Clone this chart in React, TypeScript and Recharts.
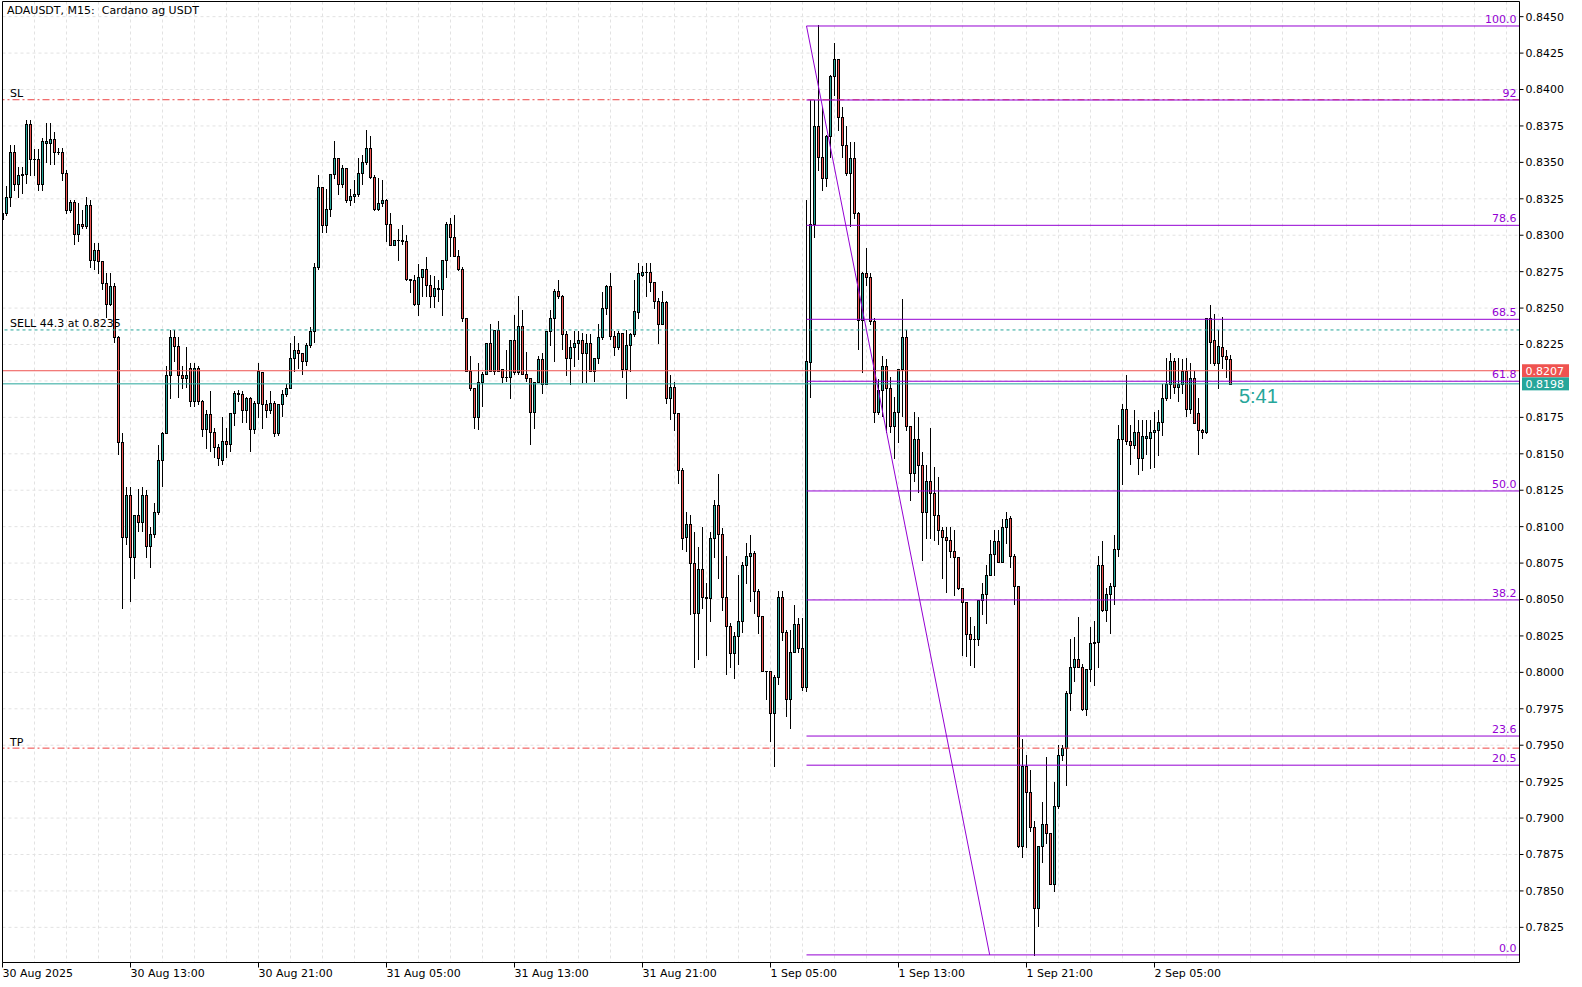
import React from 'react';
import { Bar, CartesianGrid, ComposedChart, ReferenceDot, ReferenceLine, XAxis, YAxis } from 'recharts';

// ADAUSDT M15 candles, 30 Aug 05:00 -> 2 Sep 09:45 (one value per candle)
const opens = [
  0.8311, 0.8315, 0.8326, 0.8357, 0.8335, 0.8341, 0.8342, 0.8376, 0.8352, 0.8352,
  0.8335, 0.8363, 0.8363, 0.8366, 0.8357, 0.8357, 0.8343, 0.8317, 0.8323, 0.8301,
  0.8308, 0.8306, 0.8321, 0.8283, 0.8290, 0.8282, 0.8267, 0.8253, 0.8265, 0.8230,
  0.8158, 0.8093, 0.8122, 0.8079, 0.8108, 0.8103, 0.8122, 0.8087, 0.8095, 0.8110,
  0.8146, 0.8164, 0.8204, 0.8230, 0.8224, 0.8204, 0.8202, 0.8209, 0.8186, 0.8209,
  0.8186, 0.8167, 0.8177, 0.8165, 0.8155, 0.8146, 0.8159, 0.8157, 0.8178, 0.8192,
  0.8191, 0.8180, 0.8188, 0.8167, 0.8185, 0.8206, 0.8184, 0.8180, 0.8185, 0.8164,
  0.8184, 0.8191, 0.8195, 0.8216, 0.8221, 0.8219, 0.8214, 0.8225, 0.8234, 0.8278,
  0.8333, 0.8307, 0.8318, 0.8342, 0.8353, 0.8335, 0.8346, 0.8324, 0.8327, 0.8328,
  0.8343, 0.8350, 0.8360, 0.8340, 0.8318, 0.8322, 0.8324, 0.8308, 0.8293, 0.8297,
  0.8297, 0.8296, 0.8270, 0.8269, 0.8253, 0.8271, 0.8277, 0.8266, 0.8258, 0.8264,
  0.8263, 0.8283, 0.8308, 0.8299, 0.8286, 0.8277, 0.8243, 0.8207, 0.8195, 0.8175,
  0.8199, 0.8205, 0.8226, 0.8207, 0.8235, 0.8208, 0.8203, 0.8203, 0.8228, 0.8206,
  0.8238, 0.8205, 0.8202, 0.8179, 0.8199, 0.8215, 0.8198, 0.8234, 0.8243, 0.8262,
  0.8258, 0.8232, 0.8216, 0.8223, 0.8226, 0.8228, 0.8219, 0.8226, 0.8207, 0.8216,
  0.8230, 0.8250, 0.8265, 0.8231, 0.8223, 0.8233, 0.8208, 0.8225, 0.8232, 0.8247,
  0.8273, 0.8275, 0.8275, 0.8268, 0.8255, 0.8239, 0.8254, 0.8188, 0.8196, 0.8178,
  0.8139, 0.8093, 0.8102, 0.8075, 0.8041, 0.8071, 0.8052, 0.8051, 0.8092, 0.8115,
  0.8095, 0.8052, 0.8032, 0.8013, 0.8025, 0.8035, 0.8074, 0.8080, 0.8082, 0.8056,
  0.8039, 0.8001, 0.8001, 0.7972, 0.7997, 0.8052, 0.8028, 0.7982, 0.8014, 0.8033,
  0.8017, 0.7990, 0.8213, 0.8308, 0.8375, 0.8354, 0.8339, 0.8368, 0.8409, 0.8421,
  0.8381, 0.8362, 0.8343, 0.8353, 0.8315, 0.8242, 0.8274, 0.8271, 0.8241, 0.8179,
  0.8194, 0.8210, 0.8195, 0.8169, 0.8179, 0.8208, 0.8230, 0.8169, 0.8137, 0.8160,
  0.8142, 0.8110, 0.8131, 0.8123, 0.8108, 0.8098, 0.8093, 0.8091, 0.8083, 0.8079,
  0.8058, 0.8048, 0.8026, 0.8023, 0.8023, 0.8050, 0.8054, 0.8067, 0.8081, 0.8090,
  0.8076, 0.8100, 0.8106, 0.8080, 0.8059, 0.7881, 0.7936, 0.7918, 0.7894, 0.7838,
  0.7881, 0.7896, 0.7890, 0.7855, 0.7908, 0.7943, 0.7948, 0.7986, 0.8004, 0.8009,
  0.8004, 0.7975, 0.8002, 0.8020, 0.8021, 0.8074, 0.8043, 0.8054, 0.8059, 0.8085,
  0.8160, 0.8181, 0.8159, 0.8156, 0.8165, 0.8147, 0.8161, 0.8161, 0.8165, 0.8166,
  0.8172, 0.8188, 0.8198, 0.8214, 0.8196, 0.8198, 0.8207, 0.8181, 0.8202, 0.8178,
  0.8166, 0.8165, 0.8243, 0.8228, 0.8212, 0.8223, 0.8217, 0.8215,
];

const highs = [
  0.8316, 0.8334, 0.8362, 0.8362, 0.8347, 0.8347, 0.8379, 0.8379, 0.8359, 0.8359,
  0.8367, 0.8377, 0.8377, 0.8371, 0.8360, 0.8360, 0.8345, 0.8324, 0.8324, 0.8322,
  0.8317, 0.8326, 0.8324, 0.8295, 0.8295, 0.8282, 0.8274, 0.8274, 0.8267, 0.8231,
  0.8164, 0.8127, 0.8127, 0.8108, 0.8126, 0.8127, 0.8125, 0.8100, 0.8116, 0.8156,
  0.8165, 0.8210, 0.8235, 0.8235, 0.8230, 0.8210, 0.8223, 0.8212, 0.8212, 0.8210,
  0.8187, 0.8180, 0.8193, 0.8168, 0.8157, 0.8175, 0.8168, 0.8178, 0.8193, 0.8194,
  0.8193, 0.8189, 0.8189, 0.8186, 0.8212, 0.8206, 0.8187, 0.8193, 0.8186, 0.8184,
  0.8194, 0.8198, 0.8226, 0.8231, 0.8226, 0.8219, 0.8226, 0.8237, 0.8281, 0.8341,
  0.8333, 0.8332, 0.8342, 0.8365, 0.8353, 0.8348, 0.8346, 0.8332, 0.8338, 0.8353,
  0.8355, 0.8372, 0.8368, 0.8341, 0.8339, 0.8338, 0.8325, 0.8315, 0.8297, 0.8304,
  0.8307, 0.8300, 0.8270, 0.8273, 0.8280, 0.8277, 0.8285, 0.8273, 0.8272, 0.8269,
  0.8283, 0.8309, 0.8312, 0.8314, 0.8290, 0.8278, 0.8243, 0.8217, 0.8195, 0.8212,
  0.8206, 0.8226, 0.8239, 0.8235, 0.8241, 0.8208, 0.8221, 0.8228, 0.8245, 0.8258,
  0.8249, 0.8220, 0.8202, 0.8199, 0.8217, 0.8219, 0.8234, 0.8249, 0.8263, 0.8269,
  0.8259, 0.8234, 0.8228, 0.8234, 0.8234, 0.8233, 0.8232, 0.8232, 0.8216, 0.8239,
  0.8261, 0.8266, 0.8274, 0.8234, 0.8234, 0.8233, 0.8235, 0.8233, 0.8269, 0.8281,
  0.8279, 0.8281, 0.8281, 0.8268, 0.8257, 0.8262, 0.8255, 0.8204, 0.8199, 0.8178,
  0.8140, 0.8110, 0.8108, 0.8096, 0.8086, 0.8100, 0.8061, 0.8096, 0.8118, 0.8136,
  0.8099, 0.8080, 0.8034, 0.8028, 0.8067, 0.8076, 0.8089, 0.8094, 0.8083, 0.8057,
  0.8039, 0.8001, 0.8001, 0.7998, 0.8056, 0.8056, 0.8029, 0.8029, 0.8046, 0.8037,
  0.8037, 0.8324, 0.8393, 0.8393, 0.8444, 0.8388, 0.8369, 0.8410, 0.8432, 0.8421,
  0.8388, 0.8375, 0.8364, 0.8364, 0.8316, 0.8275, 0.8291, 0.8274, 0.8243, 0.8201,
  0.8217, 0.8215, 0.8203, 0.8189, 0.8208, 0.8256, 0.8235, 0.8169, 0.8179, 0.8175,
  0.8151, 0.8142, 0.8168, 0.8141, 0.8134, 0.8100, 0.8100, 0.8100, 0.8098, 0.8079,
  0.8058, 0.8048, 0.8038, 0.8032, 0.8050, 0.8061, 0.8074, 0.8091, 0.8098, 0.8098,
  0.8105, 0.8110, 0.8107, 0.8081, 0.8059, 0.7954, 0.7943, 0.7933, 0.7898, 0.7881,
  0.7911, 0.7942, 0.7890, 0.7925, 0.7950, 0.7950, 0.7987, 0.8023, 0.8024, 0.8038,
  0.8006, 0.8002, 0.8031, 0.8035, 0.8080, 0.8090, 0.8058, 0.8061, 0.8094, 0.8170,
  0.8184, 0.8204, 0.8170, 0.8180, 0.8173, 0.8173, 0.8173, 0.8173, 0.8179, 0.8180,
  0.8198, 0.8216, 0.8219, 0.8216, 0.8216, 0.8215, 0.8216, 0.8212, 0.8207, 0.8188,
  0.8167, 0.8243, 0.8252, 0.8246, 0.8235, 0.8244, 0.8221, 0.8218,
];

const lows = [
  0.8310, 0.8314, 0.8320, 0.8331, 0.8326, 0.8329, 0.8336, 0.8341, 0.8341, 0.8331,
  0.8331, 0.8350, 0.8349, 0.8349, 0.8356, 0.8338, 0.8315, 0.8316, 0.8294, 0.8296,
  0.8305, 0.8305, 0.8278, 0.8277, 0.8274, 0.8263, 0.8244, 0.8252, 0.8227, 0.8150,
  0.8044, 0.8088, 0.8049, 0.8065, 0.8097, 0.8097, 0.8079, 0.8072, 0.8093, 0.8109,
  0.8128, 0.8164, 0.8188, 0.8214, 0.8189, 0.8195, 0.8196, 0.8183, 0.8183, 0.8184,
  0.8162, 0.8154, 0.8152, 0.8148, 0.8142, 0.8143, 0.8148, 0.8152, 0.8170, 0.8186,
  0.8172, 0.8172, 0.8152, 0.8164, 0.8175, 0.8168, 0.8175, 0.8178, 0.8162, 0.8163,
  0.8176, 0.8190, 0.8195, 0.8207, 0.8209, 0.8205, 0.8211, 0.8223, 0.8227, 0.8277,
  0.8302, 0.8302, 0.8313, 0.8339, 0.8328, 0.8333, 0.8323, 0.8321, 0.8323, 0.8327,
  0.8335, 0.8349, 0.8339, 0.8317, 0.8317, 0.8320, 0.8296, 0.8293, 0.8293, 0.8283,
  0.8294, 0.8269, 0.8261, 0.8252, 0.8245, 0.8258, 0.8258, 0.8251, 0.8251, 0.8255,
  0.8245, 0.8271, 0.8286, 0.8286, 0.8276, 0.8241, 0.8207, 0.8194, 0.8168, 0.8167,
  0.8183, 0.8205, 0.8207, 0.8205, 0.8207, 0.8199, 0.8200, 0.8188, 0.8205, 0.8205,
  0.8205, 0.8200, 0.8157, 0.8168, 0.8199, 0.8192, 0.8198, 0.8225, 0.8214, 0.8257,
  0.8222, 0.8204, 0.8198, 0.8210, 0.8215, 0.8199, 0.8199, 0.8207, 0.8200, 0.8212,
  0.8229, 0.8246, 0.8229, 0.8218, 0.8222, 0.8203, 0.8188, 0.8207, 0.8231, 0.8243,
  0.8272, 0.8258, 0.8262, 0.8250, 0.8226, 0.8239, 0.8185, 0.8174, 0.8166, 0.8130,
  0.8085, 0.8083, 0.8040, 0.8004, 0.8009, 0.8044, 0.8012, 0.8035, 0.8079, 0.8065,
  0.8043, 0.7999, 0.8004, 0.7996, 0.8006, 0.8028, 0.8061, 0.8049, 0.8041, 0.8027,
  0.8001, 0.7982, 0.7953, 0.7936, 0.7992, 0.8022, 0.7970, 0.7962, 0.8014, 0.8014,
  0.7988, 0.7987, 0.8189, 0.8299, 0.8345, 0.8331, 0.8334, 0.8354, 0.8396, 0.8372,
  0.8354, 0.8341, 0.8306, 0.8312, 0.8222, 0.8206, 0.8266, 0.8239, 0.8172, 0.8177,
  0.8176, 0.8165, 0.8165, 0.8147, 0.8158, 0.8176, 0.8166, 0.8118, 0.8131, 0.8124,
  0.8077, 0.8092, 0.8092, 0.8091, 0.8088, 0.8065, 0.8055, 0.8079, 0.8053, 0.8057,
  0.8012, 0.8011, 0.8005, 0.8004, 0.8019, 0.8040, 0.8034, 0.8067, 0.8067, 0.8076,
  0.8076, 0.8089, 0.8072, 0.8047, 0.7880, 0.7873, 0.7880, 0.7891, 0.7806, 0.7826,
  0.7870, 0.7883, 0.7855, 0.7850, 0.7907, 0.7940, 0.7923, 0.7974, 0.7994, 0.8004,
  0.7974, 0.7971, 0.7994, 0.7991, 0.8004, 0.8042, 0.8035, 0.8027, 0.8047, 0.8080,
  0.8129, 0.8157, 0.8143, 0.8154, 0.8136, 0.8139, 0.8150, 0.8140, 0.8141, 0.8149,
  0.8163, 0.8187, 0.8188, 0.8192, 0.8186, 0.8192, 0.8176, 0.8178, 0.8171, 0.8150,
  0.8161, 0.8164, 0.8212, 0.8211, 0.8195, 0.8209, 0.8203, 0.8198,
];

const closes = [
  0.8315, 0.8326, 0.8357, 0.8335, 0.8341, 0.8342, 0.8376, 0.8352, 0.8352, 0.8335,
  0.8365, 0.8365, 0.8366, 0.8357, 0.8357, 0.8343, 0.8317, 0.8323, 0.8301, 0.8308,
  0.8306, 0.8321, 0.8283, 0.8290, 0.8282, 0.8267, 0.8253, 0.8265, 0.8230, 0.8158,
  0.8093, 0.8122, 0.8079, 0.8108, 0.8103, 0.8122, 0.8087, 0.8095, 0.8110, 0.8146,
  0.8164, 0.8204, 0.8230, 0.8224, 0.8204, 0.8202, 0.8204, 0.8186, 0.8209, 0.8186,
  0.8167, 0.8177, 0.8165, 0.8155, 0.8147, 0.8159, 0.8157, 0.8178, 0.8192, 0.8191,
  0.8180, 0.8188, 0.8167, 0.8185, 0.8207, 0.8184, 0.8180, 0.8185, 0.8164, 0.8184,
  0.8191, 0.8195, 0.8216, 0.8221, 0.8219, 0.8214, 0.8225, 0.8234, 0.8278, 0.8333,
  0.8307, 0.8318, 0.8342, 0.8353, 0.8335, 0.8346, 0.8324, 0.8327, 0.8328, 0.8343,
  0.8350, 0.8360, 0.8340, 0.8318, 0.8322, 0.8324, 0.8308, 0.8293, 0.8297, 0.8297,
  0.8296, 0.8270, 0.8269, 0.8253, 0.8271, 0.8277, 0.8266, 0.8258, 0.8264, 0.8263,
  0.8283, 0.8308, 0.8299, 0.8286, 0.8277, 0.8243, 0.8207, 0.8195, 0.8175, 0.8199,
  0.8205, 0.8226, 0.8207, 0.8235, 0.8207, 0.8203, 0.8203, 0.8228, 0.8206, 0.8238,
  0.8205, 0.8202, 0.8179, 0.8199, 0.8215, 0.8198, 0.8234, 0.8243, 0.8262, 0.8258,
  0.8232, 0.8216, 0.8223, 0.8226, 0.8228, 0.8219, 0.8226, 0.8207, 0.8216, 0.8230,
  0.8250, 0.8265, 0.8231, 0.8223, 0.8233, 0.8208, 0.8225, 0.8232, 0.8248, 0.8274,
  0.8275, 0.8275, 0.8268, 0.8255, 0.8239, 0.8254, 0.8188, 0.8196, 0.8178, 0.8139,
  0.8092, 0.8102, 0.8075, 0.8041, 0.8071, 0.8052, 0.8051, 0.8092, 0.8115, 0.8095,
  0.8052, 0.8032, 0.8013, 0.8025, 0.8035, 0.8074, 0.8080, 0.8082, 0.8056, 0.8039,
  0.8001, 0.8001, 0.7972, 0.7997, 0.8052, 0.8028, 0.7982, 0.8014, 0.8033, 0.8017,
  0.7990, 0.8214, 0.8308, 0.8375, 0.8354, 0.8339, 0.8368, 0.8409, 0.8421, 0.8381,
  0.8362, 0.8343, 0.8353, 0.8315, 0.8242, 0.8274, 0.8271, 0.8241, 0.8179, 0.8194,
  0.8210, 0.8195, 0.8169, 0.8179, 0.8208, 0.8230, 0.8169, 0.8137, 0.8160, 0.8142,
  0.8110, 0.8131, 0.8123, 0.8108, 0.8098, 0.8093, 0.8091, 0.8083, 0.8079, 0.8058,
  0.8048, 0.8026, 0.8023, 0.8023, 0.8050, 0.8054, 0.8067, 0.8081, 0.8090, 0.8076,
  0.8100, 0.8105, 0.8080, 0.8059, 0.7881, 0.7936, 0.7918, 0.7894, 0.7838, 0.7881,
  0.7896, 0.7890, 0.7855, 0.7908, 0.7943, 0.7948, 0.7986, 0.8004, 0.8009, 0.8004,
  0.7975, 0.8002, 0.8020, 0.8021, 0.8074, 0.8043, 0.8054, 0.8059, 0.8085, 0.8160,
  0.8181, 0.8159, 0.8156, 0.8165, 0.8147, 0.8162, 0.8162, 0.8165, 0.8166, 0.8172,
  0.8188, 0.8198, 0.8214, 0.8196, 0.8198, 0.8207, 0.8181, 0.8202, 0.8171, 0.8166,
  0.8165, 0.8243, 0.8227, 0.8212, 0.8224, 0.8217, 0.8215, 0.8198,
];

// time axis: a label every 32 candles (8 hours)
const timeTicks = [0, 32, 64, 96, 128, 160, 192, 224, 256, 288];
const timeLabels = [
  '30 Aug 2025', '30 Aug 13:00', '30 Aug 21:00', '31 Aug 05:00', '31 Aug 13:00',
  '31 Aug 21:00', '1 Sep 05:00', '1 Sep 13:00', '1 Sep 21:00', '2 Sep 05:00',
];

const priceTicks = [
  0.7825, 0.785, 0.7875, 0.79, 0.7925, 0.795, 0.7975, 0.8, 0.8025, 0.805, 0.8075, 0.81, 0.8125,
  0.815, 0.8175, 0.82, 0.8225, 0.825, 0.8275, 0.83, 0.8325, 0.835, 0.8375, 0.84, 0.8425, 0.845,
];

// fibonacci retracement (high 0.8444 -> low 0.7806)
const fibLabels = ['0.0', '20.5', '23.6', '38.2', '50.0', '61.8', '68.5', '78.6', '92', '100.0'];
const fibPrices = [0.78061, 0.79363, 0.79563, 0.80497, 0.81245, 0.81998, 0.82423, 0.83068, 0.83928, 0.84436];
const fibStart = 201;
const fibDiagEnd = 246.8;

const slPrice = 0.8393;
const tpPrice = 0.7948;
const sellPrice = 0.8235;
const askPrice = 0.8207;
const bidPrice = 0.8198;
const countdown = '5:41';
const countdownAt = 309.1;

const X_MAX = 379.25;
const Y_DOMAIN: [number, number] = [0.780088, 0.846041];

const UP = '#26a69a';
const DOWN = '#ef5350';
const FIB = '#9400d3';
const GRID = '#e2e2e2';
const FONT = '"DejaVu Sans", Tahoma, sans-serif';

const candles = opens.map((open, i) => ({
  idx: i,
  open,
  high: highs[i],
  low: lows[i],
  close: closes[i],
  range: [lows[i], highs[i]],
}));

// vertical grid every 8 candles (2 hours)
const gridCols: number[] = [];
for (let i = 8; i <= X_MAX; i += 8) gridCols.push(i);

const axisTicks = priceTicks.filter(p => Math.abs(p - bidPrice) > 0.0005 && Math.abs(p - askPrice) > 0.0005);

function Candle(props: any) {
  const { x, y, width, height, payload } = props;
  if (x == null || !payload) return null;
  const { open, high, low, close } = payload;
  const top = Math.min(y, y + height);
  const h = Math.abs(height);
  const k = high > low ? h / (high - low) : 0;
  const py = (v: number) => top + (high - v) * k;
  const cx = Math.round(x + width / 2 - 0.5) + 0.5;
  const b0 = Math.round(py(Math.max(open, close)));
  const b1 = Math.round(py(Math.min(open, close)));
  const fill = close >= open ? UP : DOWN;
  return (
    <g>
      <line x1={cx} x2={cx} y1={Math.round(py(high))} y2={Math.round(py(low)) + 1} stroke="#000" strokeWidth={1} />
      {b1 - b0 >= 1 ? (
        <rect x={cx - 1} y={b0 + 0.5} width={2} height={b1 - b0} fill={fill} stroke="#000" strokeWidth={1} />
      ) : (
        <line x1={cx - 1.5} x2={cx + 1.5} y1={b0 + 0.5} y2={b0 + 0.5} stroke="#000" strokeWidth={1} />
      )}
    </g>
  );
}

const TimeTick = ({ x, y, payload }: any) => (
  <text x={x} y={y} dy="0.71em" textAnchor="start" fontSize={11} fontFamily={FONT} fill="#000">
    {timeLabels[timeTicks.indexOf(payload.value)]}
  </text>
);

const leftLabel = (text: string) => (p: any) => (
  <text x={p.viewBox.x + 7.5} y={p.viewBox.y - 2.5} fontSize={11} fontFamily={FONT} fill="#000">
    {text}
  </text>
);

const priceBox = (value: number, color: string) => (p: any) => {
  const bx = p.viewBox.x + p.viewBox.width + 2.5;
  const by = p.viewBox.y;
  return (
    <g>
      <rect x={bx} y={by - 6.5} width={47} height={13} fill={color} />
      <text x={bx + 3.5} y={by} dy="0.355em" fontSize={11} fontFamily={FONT} fill="#fff">
        {value.toFixed(4)}
      </text>
    </g>
  );
};

const countdownLabel = (p: any) => (
  <text
    x={p.viewBox.x + p.viewBox.width / 2}
    y={p.viewBox.y + p.viewBox.height / 2 + 19}
    fontSize={20}
    fontFamily='"Liberation Sans", Arial, sans-serif'
    fill={UP}
  >
    {countdown}
  </text>
);

export default function App() {
  return (
    <div style={{ position: 'absolute', left: 0, top: 0, width: 1582, height: 987, background: '#fff' }}>
      <ComposedChart
        width={1582}
        height={987}
        data={candles}
        margin={{ top: 1.5, right: 0, bottom: 0, left: 2.5 }}
      >
        {/* hidden axes that only carry the grid spacing */}
        <XAxis xAxisId="grid" dataKey="idx" type="number" domain={[0, X_MAX]} allowDataOverflow ticks={gridCols} hide />
        <YAxis yAxisId="grid" type="number" domain={Y_DOMAIN} allowDataOverflow ticks={priceTicks} hide />
        <CartesianGrid xAxisId="grid" yAxisId="grid" stroke={GRID} strokeDasharray="3 3" />

        <XAxis
          dataKey="idx"
          type="number"
          domain={[0, X_MAX]}
          allowDataOverflow
          ticks={timeTicks}
          interval={0}
          height={24.5}
          tick={<TimeTick />}
          tickSize={5}
          tickMargin={2}
          tickLine={{ stroke: '#000' }}
          axisLine={{ stroke: '#000' }}
        />
        <YAxis
          orientation="right"
          type="number"
          domain={Y_DOMAIN}
          allowDataOverflow
          ticks={axisTicks}
          interval={0}
          width={62.5}
          tickSize={4}
          tickMargin={2}
          tickFormatter={(v: number) => v.toFixed(4)}
          tick={{ fill: '#000', fontSize: 11, fontFamily: FONT }}
          tickLine={{ stroke: '#000' }}
          axisLine={{ stroke: '#000' }}
        />

        <Bar dataKey="range" shape={<Candle />} barSize={3} isAnimationActive={false} />

        <ReferenceLine y={slPrice} stroke="#ee4444" strokeDasharray="7 3 2 3" label={leftLabel('SL')} />
        <ReferenceLine y={tpPrice} stroke="#ee4444" strokeDasharray="7 3 2 3" label={leftLabel('TP')} />
        <ReferenceLine y={sellPrice} stroke={UP} strokeDasharray="3 3" label={leftLabel('SELL 44.3 at 0.8235')} />
        <ReferenceLine y={askPrice} stroke={DOWN} label={priceBox(askPrice, DOWN)} />
        <ReferenceLine y={bidPrice} stroke={UP} label={priceBox(bidPrice, UP)} />

        {fibPrices.map((p, i) => (
          <ReferenceLine
            key={`f${i}`}
            segment={[{ x: fibStart, y: p }, { x: X_MAX, y: p }]}
            stroke={FIB}
            label={{ value: fibLabels[i], position: 'insideBottomRight', offset: 3, fill: FIB, fontSize: 11, fontFamily: FONT }}
          />
        ))}
        <ReferenceLine
          segment={[{ x: fibStart, y: fibPrices[fibPrices.length - 1] }, { x: fibDiagEnd, y: fibPrices[0] }]}
          stroke={FIB}
        />

        <ReferenceDot x={countdownAt} y={bidPrice} r={1} fill="none" stroke="none" label={countdownLabel} />

        <ReferenceLine y={Y_DOMAIN[1]} stroke="#000" ifOverflow="visible" />
        <ReferenceLine x={0} stroke="#000" ifOverflow="visible" />
      </ComposedChart>
      <div
        style={{
          position: 'absolute',
          left: 7,
          top: 4,
          fontFamily: FONT,
          fontSize: 11,
          lineHeight: '13px',
          whiteSpace: 'pre',
          color: '#000',
        }}
      >
        {'ADAUSDT, M15:  Cardano ag USDT'}
      </div>
    </div>
  );
}
